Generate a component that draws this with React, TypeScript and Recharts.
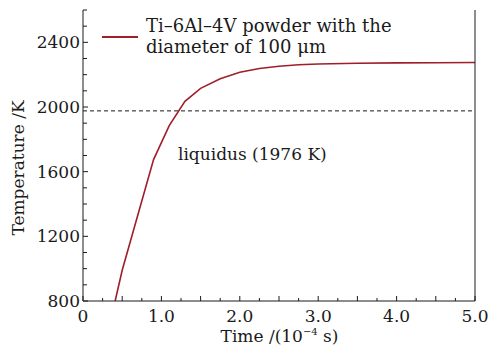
import { LineChart, Line, XAxis, YAxis, ReferenceLine } from 'recharts'

// simulated temperature history of the powder particle
const times = [0.41, 0.5, 0.73, 0.9, 1.1, 1.3, 1.5, 1.75, 2.0, 2.25, 2.5, 2.75, 3.0, 3.5, 4.0, 4.5, 5.0]
const temps = [800, 990, 1385, 1675, 1885, 2035, 2115, 2175, 2215, 2238, 2252, 2261, 2266, 2271, 2273, 2274, 2275]

const xTicks = [0, 0.25, 0.5, 0.75, 1, 1.25, 1.5, 1.75, 2, 2.25, 2.5, 2.75, 3, 3.25, 3.5, 3.75, 4, 4.25, 4.5, 4.75, 5]
const xLabels = [0, 1, 2, 3, 4, 5]
const yTicks = [800, 900, 1000, 1100, 1200, 1300, 1400, 1500, 1600, 1700, 1800, 1900, 2000, 2100, 2200, 2300, 2400, 2500, 2600]
const yLabels = [800, 1200, 1600, 2000, 2400]
const liquidus = 1976

const data = times.map((t, i) => ({ t, T: temps[i] }))

const font = '"DejaVu Serif", serif'
const ink = '#1a1a1a'
const red = '#a01e2a'

function XTick(props: any) {
  const { x, y, payload } = props
  const v = payload.value
  const labeled = xLabels.includes(v)
  const len = Number.isInteger(v * 2) ? 5 : 3
  return (
    <g>
      <line x1={x} y1={y} x2={x} y2={y - len} stroke={ink} strokeWidth={1} />
      {labeled && (
        <text x={x} y={y + 21} textAnchor="middle" fontSize={17} fontFamily={font} fill={ink}>
          {v === 0 ? '0' : v.toFixed(1)}
        </text>
      )}
    </g>
  )
}

function YTick(props: any) {
  const { x, y, payload } = props
  const v = payload.value
  const labeled = yLabels.includes(v)
  return (
    <g>
      <line x1={x} y1={y} x2={x + (labeled ? 5 : 4)} y2={y} stroke={ink} strokeWidth={1} />
      {labeled && (
        <text x={x - 3} y={y + 6} textAnchor="end" fontSize={17} fontFamily={font} fill={ink}>
          {v}
        </text>
      )}
    </g>
  )
}

function LiquidusLabel(props: any) {
  const { viewBox } = props
  return (
    <text x={viewBox.x + 95} y={viewBox.y + 49} fontSize={17} fontFamily={font} fill={ink}>
      liquidus (1976 K)
    </text>
  )
}

export default function App() {
  return (
    <div style={{ position: 'fixed', top: 0, left: 0, width: 493, height: 347, background: '#fff' }}>
      <LineChart width={493} height={347} data={data} margin={{ top: 10, right: 0, bottom: 0, left: 0 }}>
        <XAxis
          dataKey="t"
          type="number"
          domain={[0, 5]}
          ticks={xTicks}
          interval={0}
          height={46}
          tickSize={0}
          tickMargin={0}
          tickLine={false}
          axisLine={{ stroke: ink }}
          tick={<XTick />}
          allowDataOverflow
        />
        <XAxis xAxisId="top" orientation="top" type="number" domain={[0, 5]} height={0} tick={false} tickLine={false} axisLine={{ stroke: ink }} />
        <YAxis
          type="number"
          domain={[800, 2600]}
          ticks={yTicks}
          interval={0}
          width={83}
          tickSize={0}
          tickMargin={0}
          tickLine={false}
          axisLine={{ stroke: ink }}
          tick={<YTick />}
          allowDataOverflow
        />
        <YAxis yAxisId="right" orientation="right" type="number" domain={[800, 2600]} width={18} tick={false} tickLine={false} axisLine={{ stroke: ink }} />
        <ReferenceLine y={liquidus} stroke={ink} strokeDasharray="4 3" strokeWidth={1} label={<LiquidusLabel />} />
        <Line dataKey="T" stroke={red} strokeWidth={1.6} dot={false} type="linear" isAnimationActive={false} />
      </LineChart>
      <div
        style={{
          position: 'absolute',
          left: 102,
          top: 15,
          display: 'flex',
          fontFamily: font,
          fontSize: 18,
          lineHeight: '21px',
          color: ink,
          whiteSpace: 'nowrap',
        }}
      >
        <div style={{ width: 36, height: 2, background: red, marginTop: 21, marginRight: 8 }} />
        <div>
          Ti–6Al–4V powder with the
          <br />
          diameter of 100 μm
        </div>
      </div>
      <div
        style={{
          position: 'absolute',
          left: 0,
          right: 0,
          top: 328,
          paddingLeft: 66,
          textAlign: 'center',
          fontFamily: font,
          fontSize: 17,
          lineHeight: '16px',
          color: ink,
        }}
      >
        Time /(10<span style={{ fontSize: 10, position: 'relative', top: -7 }}>−4</span> s)
      </div>
      <div
        style={{
          position: 'absolute',
          left: 18,
          top: 168,
          transform: 'translate(-50%, -50%) rotate(-90deg)',
          whiteSpace: 'nowrap',
          fontFamily: font,
          fontSize: 17,
          color: ink,
        }}
      >
        Temperature /K
      </div>
    </div>
  )
}
